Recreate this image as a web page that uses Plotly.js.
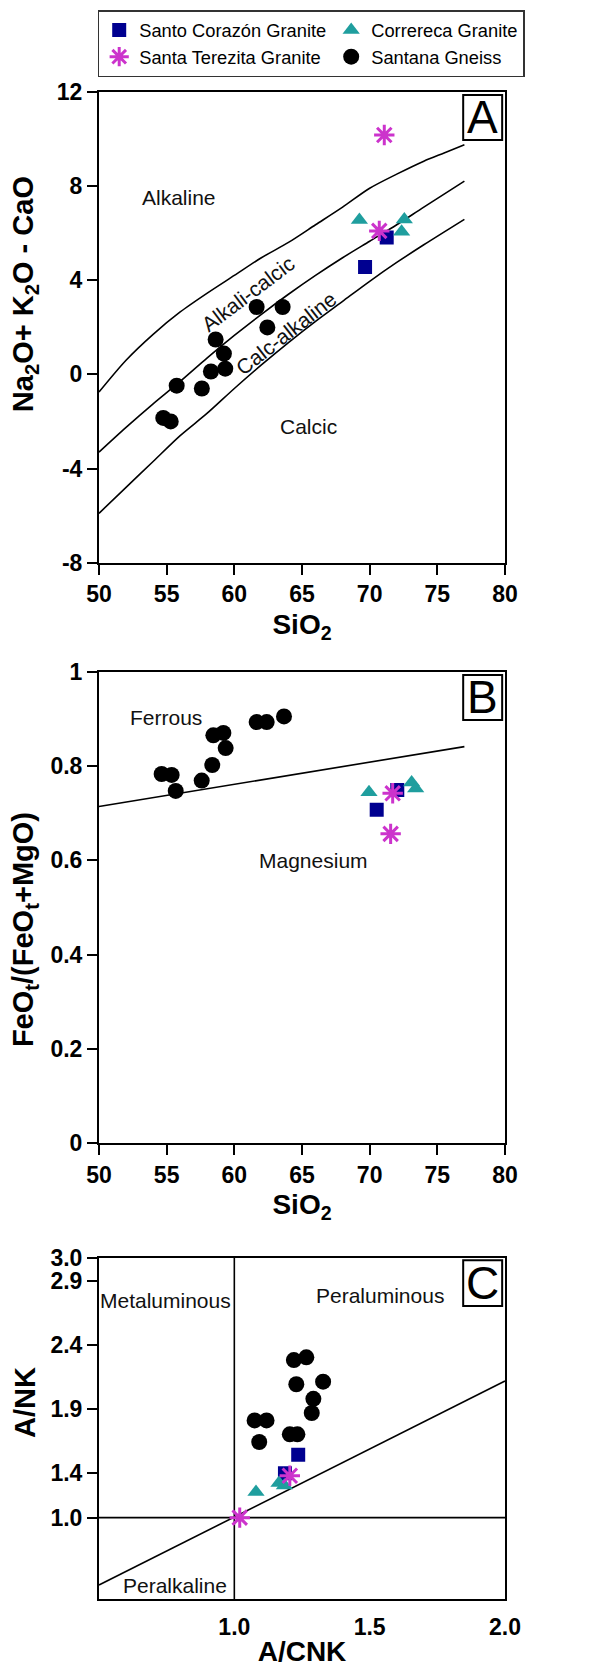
<!DOCTYPE html>
<html><head><meta charset="utf-8">
<script src="https://cdn.plot.ly/plotly-3.0.1.min.js"></script>
<style>html,body{margin:0;padding:0;background:#fff}</style>
</head><body>
<div id="chart" style="width:608px;height:1667px"></div>
<script>
// ---------------- DATA ----------------
const seriesNames = ["Santo Corazón Granite", "Correreca Granite", "Santa Terezita Granite", "Santana Gneiss"];

// Panel A : SiO2 vs Na2O+K2O-CaO
const aSantoX = [69.66, 71.26];
const aSantoY = [4.56, 5.81];
const aCorrX = [69.24, 72.56, 72.36];
const aCorrY = [6.55, 6.57, 6.05];
const aTerezX = [71.08, 70.71];
const aTerezY = [10.16, 6.09];
const aGneissX = [54.75, 55.30, 55.74, 57.60, 58.27, 59.33, 58.62, 59.23, 61.65, 62.44, 63.57];
const aGneissY = [-1.85, -2.00, -0.48, -0.60, 0.12, 0.24, 1.48, 0.88, 2.86, 1.99, 2.86];
// MALI boundaries
const aUpperX = [50, 52, 54, 56, 58, 60, 62, 64, 66, 68, 70, 72, 74, 75.5, 77];
const aUpperY = [-0.75, 0.6, 1.7, 2.65, 3.45, 4.2, 4.95, 5.6, 6.35, 7.1, 7.9, 8.5, 9.05, 9.4, 9.75];
const aMiddleX = [50, 52, 54, 56, 58, 60, 62, 64, 66, 68, 70, 72, 74, 77];
const aMiddleY = [-3.3, -2.25, -1.25, -0.3, 0.7, 1.65, 2.55, 3.4, 4.2, 4.95, 5.65, 6.35, 7.1, 8.2];
const aLowerX = [50, 52, 54, 56, 58, 60, 62, 64, 66, 68, 70, 72, 74, 77];
const aLowerY = [-5.9, -4.8, -3.7, -2.6, -1.65, -0.6, 0.4, 1.35, 2.25, 3.1, 3.95, 4.75, 5.5, 6.58];
const aXTicks = [50, 55, 60, 65, 70, 75, 80];
const aYTicks = [-8, -4, 0, 4, 8, 12];

// Panel B : SiO2 vs FeOt/(FeOt+MgO)
const bSantoX = [70.52, 72.04];
const bSantoY = [0.707, 0.749];
const bCorrX = [69.95, 73.10, 73.40];
const bCorrY = [0.744, 0.765, 0.752];
const bTerezX = [71.70, 71.55];
const bTerezY = [0.742, 0.656];
const bGneissX = [54.63, 55.37, 55.67, 57.59, 58.37, 58.45, 59.19, 59.36, 61.65, 62.39, 63.67];
const bGneissY = [0.783, 0.781, 0.747, 0.769, 0.802, 0.865, 0.870, 0.838, 0.893, 0.893, 0.905];
const bLineX = [50, 77];
const bLineY = [0.714, 0.841];
const bYTicks = [0, 0.2, 0.4, 0.6, 0.8, 1];

// Panel C : A/CNK vs A/NK (values in the figure's own axis units)
const cSantoX = [1.236, 1.187];
const cSantoY = [1.541, 1.395];
const cCorrX = [1.080, 1.165, 1.185];
const cCorrY = [1.248, 1.320, 1.300];
const cTerezX = [1.205, 1.020];
const cTerezY = [1.376, 1.048];
const cGneissX = [1.220, 1.266, 1.229, 1.328, 1.292, 1.286, 1.075, 1.119, 1.205, 1.233, 1.092];
const cGneissY = [2.281, 2.303, 2.092, 2.112, 1.978, 1.867, 1.809, 1.809, 1.700, 1.700, 1.640];
const cVertX = [1.0, 1.0];
const cVertY = [0.409, 3.082];
const cHorzX = [0.5, 2.0];
const cHorzY = [1.048, 1.048];
const cDiagX = [0.5, 2.0];
const cDiagY = [0.521, 2.117];
const cTickVals = [1.048, 1.4, 1.9, 2.4, 2.9, 3.082];
const cTickText = ["1.0", "1.4", "1.9", "2.4", "2.9", "3.0"];
const cXTicks = [1.0, 1.5, 2.0];
const cXTickText = ["1.0", "1.5", "2.0"];

// ---------------- STYLE ----------------
const FONT = "Liberation Sans, Arial, Helvetica, sans-serif";
const markerStyles = [
  {symbol: "square", size: 14, color: "#000090"},
  {symbol: "triangle-up", size: 15, color: "#1F9E9E"},
  {symbol: "asterisk-open", size: 17, color: "#CC33CC", line: {color: "#CC33CC", width: 3}},
  {symbol: "circle", size: 16, color: "#000000"}
];

function lineTrace(x, y, xa, ya, smooth) {
  return {x: x, y: y, xaxis: xa, yaxis: ya, mode: "lines", type: "scatter",
          line: smooth ? {color: "#000", width: 1.6, shape: "spline", smoothing: 0.8}
                       : {color: "#000", width: 1.6},
          showlegend: false, hoverinfo: "skip"};
}
function ptTrace(i, x, y, xa, ya, show) {
  return {x: x, y: y, xaxis: xa, yaxis: ya, mode: "markers", type: "scatter",
          name: seriesNames[i], legendgroup: "g" + i, showlegend: show,
          marker: markerStyles[i], hoverinfo: "skip"};
}

const traces = [
  lineTrace(aUpperX, aUpperY, "x", "y", true),
  lineTrace(aMiddleX, aMiddleY, "x", "y", true),
  lineTrace(aLowerX, aLowerY, "x", "y", true),
  lineTrace(bLineX, bLineY, "x2", "y2"),
  lineTrace(cVertX, cVertY, "x3", "y3"),
  lineTrace(cHorzX, cHorzY, "x3", "y3"),
  lineTrace(cDiagX, cDiagY, "x3", "y3"),
  ptTrace(0, aSantoX, aSantoY, "x", "y", true),
  ptTrace(1, aCorrX, aCorrY, "x", "y", true),
  ptTrace(2, aTerezX, aTerezY, "x", "y", true),
  ptTrace(3, aGneissX, aGneissY, "x", "y", true),
  ptTrace(3, bGneissX, bGneissY, "x2", "y2", false),
  ptTrace(0, bSantoX, bSantoY, "x2", "y2", false),
  ptTrace(1, bCorrX, bCorrY, "x2", "y2", false),
  ptTrace(2, bTerezX, bTerezY, "x2", "y2", false),
  ptTrace(3, cGneissX, cGneissY, "x3", "y3", false),
  ptTrace(0, cSantoX, cSantoY, "x3", "y3", false),
  ptTrace(1, cCorrX, cCorrY, "x3", "y3", false),
  ptTrace(2, cTerezX, cTerezY, "x3", "y3", false)
];

const tickFont = {family: FONT, size: 23, color: "#000", weight: "bold"};
const titleFont = {family: FONT, size: 28, color: "#000", weight: "bold"};
const bold = arr => arr.map(v => "<b>" + v + "</b>");
function axis(extra) {
  return Object.assign({
    showline: true, linecolor: "#000", linewidth: 2, mirror: true,
    ticks: "outside", ticklen: 10, tickwidth: 2, tickcolor: "#000",
    showgrid: false, zeroline: false, tickfont: tickFont, fixedrange: true,
    tickmode: "array"
  }, extra);
}
const XD = [0.1628, 0.8306];

const labelFont = {family: FONT, size: 21, color: "#111"};
function lab(text, x, y, xr, yr, ang, size) {
  return {text: text, x: x, y: y, xref: xr, yref: yr, showarrow: false,
          textangle: ang || 0, font: Object.assign({}, labelFont, size ? {size: size} : {}),
          xanchor: "center", yanchor: "middle"};
}
function boxLetter(t, xr, yr, y0) {
  return {text: t, x: 0.945, y: (y0 + 0.993) / 2, xref: xr + " domain", yref: yr + " domain",
          showarrow: false, font: {family: FONT, size: 46, color: "#000"},
          xanchor: "center", yanchor: "middle"};
}
function boxShape(xr, yr, y0) {
  return {type: "rect", xref: xr + " domain", yref: yr + " domain",
          x0: 0.897, x1: 0.993, y0: y0, y1: 0.993,
          line: {color: "#000", width: 2}, fillcolor: "rgba(0,0,0,0)"};
}
function yTitle(text, y) {
  return {text: text, x: 0.041, y: y, xref: "paper", yref: "paper", showarrow: false,
          textangle: -90, font: {family: FONT, size: 29, color: "#000", weight: "bold"},
          xanchor: "center", yanchor: "middle"};
}

const layout = {
  width: 608, height: 1667,
  margin: {l: 0, r: 0, t: 0, b: 0},
  paper_bgcolor: "#fff", plot_bgcolor: "#fff",
  font: {family: FONT, color: "#000"},
  hovermode: false,
  showlegend: true,
  legend: {
    orientation: "h", x: 0.1607, y: 0.994, xanchor: "left", yanchor: "top",
    bordercolor: "#333", borderwidth: 1.5, bgcolor: "#fff",
    font: {family: FONT, size: 18.3, color: "#000"},
    traceorder: "normal", itemwidth: 30, tracegroupgap: 0
  },
  xaxis: axis({domain: XD, anchor: "y", range: [50, 80], tickvals: aXTicks, ticktext: bold(aXTicks),
               title: {text: "SiO<sub>2</sub>", font: titleFont, standoff: 8}}),
  yaxis: axis({domain: [0.6624, 0.9450], anchor: "x", range: [-8, 12], tickvals: aYTicks, ticktext: bold(aYTicks)}),
  xaxis2: axis({domain: XD, anchor: "y2", range: [50, 80], tickvals: aXTicks, ticktext: bold(aXTicks),
               title: {text: "SiO<sub>2</sub>", font: titleFont, standoff: 8}}),
  yaxis2: axis({domain: [0.3142, 0.5971], anchor: "x2", range: [0, 1], tickvals: bYTicks, ticktext: bold(bYTicks)}),
  xaxis3: axis({domain: XD, anchor: "y3", range: [0.5, 2.0], tickvals: cXTicks, ticktext: bold(cXTickText),
               tickcolor: "rgba(0,0,0,0)", ticklen: 6,
               title: {text: "A/CNK", font: titleFont, standoff: 2}}),
  yaxis3: axis({domain: [0.0406, 0.2455], anchor: "x3", range: [0.409, 3.082],
               tickvals: cTickVals, ticktext: bold(cTickText)}),
  shapes: [boxShape("x", "y", 0.8975), boxShape("x2", "y2", 0.8976), boxShape("x3", "y3", 0.859)],
  annotations: [
    yTitle("Na<sub>2</sub>O+ K<sub>2</sub>O - CaO", 0.8235),
    yTitle("FeO<sub>t</sub>/(FeO<sub>t</sub>+MgO)", 0.4426),
    yTitle("A/NK", 0.1590),
    boxLetter("A", "x", "y", 0.8975),
    boxLetter("B", "x2", "y2", 0.8976),
    boxLetter("C", "x3", "y3", 0.859),
    lab("Alkaline", 55.92, 7.51, "x", "y"),
    lab("Calcic", 65.47, -2.2, "x", "y"),
    lab("Alkali-calcic", 61.03, 3.44, "x", "y", -37, 21),
    lab("Calc-alkaline", 63.80, 1.74, "x", "y", -38, 21),
    lab("Ferrous", 54.95, 0.902, "x2", "y2"),
    lab("Magnesium", 65.88, 0.599, "x2", "y2"),
    lab("Metaluminous", 0.7465, 2.751, "x3", "y3"),
    lab("Peraluminous", 1.537, 2.79, "x3", "y3"),
    lab("Peralkaline", 0.782, 0.521, "x3", "y3")
  ]
};

Plotly.newPlot("chart", traces, layout, {staticPlot: true, displayModeBar: false});
</script>
</body></html>
